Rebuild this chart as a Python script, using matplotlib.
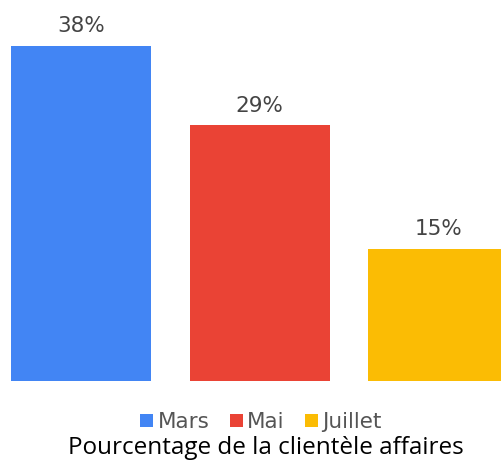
import matplotlib.pyplot as plt

months = ['Mars', 'Mai', 'Juillet']
values = [38, 29, 15]
colors = ['#4285F4', '#EA4335', '#FBBC04']
title = 'Pourcentage de la clientèle affaires'


def main():
    fig = plt.figure(figsize=(5.01, 4.61), dpi=100)
    ax = fig.add_axes([0, 1 - 381 / 461, 1, 381 / 461])

    x = range(len(months))
    bars = ax.bar(x, values, width=0.783, color=colors)
    for b, v in zip(bars, values):
        ax.text(b.get_x() + b.get_width() / 2, v + 1.55, f'{v}%',
                ha='center', va='baseline', fontsize=15.5, color='#444444',
                family='DejaVu Sans')

    ax.set_xlim(-0.453, 2.35)
    ax.set_ylim(0, 43.2)
    ax.axis('off')

    fig.legend(bars, months, loc='center', bbox_to_anchor=(0.521, 1 - 422 / 461),
               ncol=3, frameon=False, handlelength=0.6, handleheight=0.6,
               handletextpad=0.2, columnspacing=0.95,
               prop={'family': 'DejaVu Sans', 'size': 15.5}, labelcolor='#555555')
    fig.text(0.531, 1 - 454 / 461, title, ha='center', va='baseline',
             fontsize=17.5, family='Open Sans', color='black')

    fig.savefig('out.png', dpi=100)


if __name__ == '__main__':
    main()
